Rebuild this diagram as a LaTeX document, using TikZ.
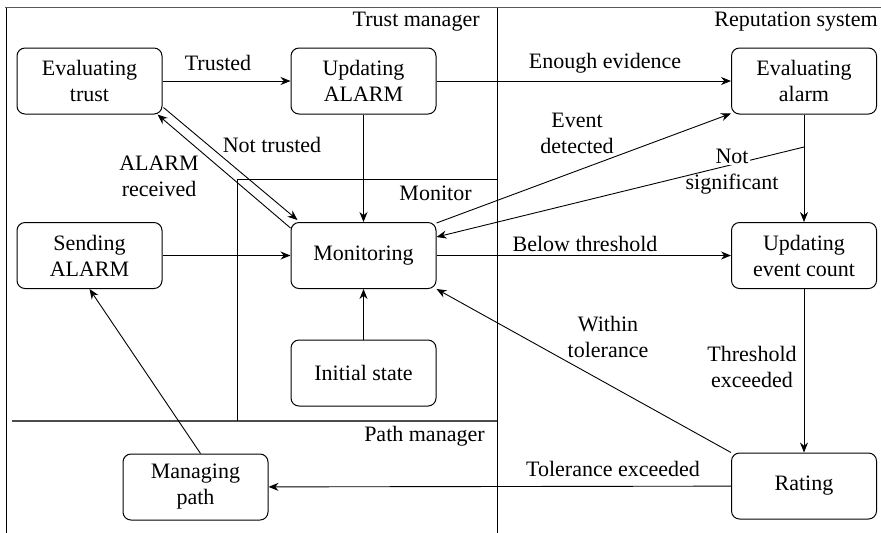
\documentclass[tikz,border=0pt]{standalone}
\usepackage{fontspec}
\setmainfont{Liberation Serif}
\usetikzlibrary{arrows.meta}
\begin{document}
\begin{tikzpicture}[x=0.5pt,y=-0.5pt,
  every node/.style={font=\fontsize{11}{13}\selectfont},
  state/.style={draw,rounded corners=4pt,minimum width=72.5pt,minimum height=33pt,align=center,inner sep=1pt,line width=0.5pt},
  lbl/.style={align=center,inner sep=1pt},
  conn/.style={line width=0.45pt,-{Stealth[length=5pt,width=4pt]}},
  frame/.style={line width=0.5pt}]
\useasboundingbox (0,0) rectangle (881,532);
% frame and regions
\draw[gray!70!black,line width=0.9pt] (5,7.5) -- (881,7.5);
\draw[frame] (6,7.5) -- (6,533);
\draw[frame] (497,7.5) -- (497,533);
\draw[frame,gray!60!black,line width=0.7pt] (12,421) -- (497,421);
\draw[frame] (237,421) -- (237,179) -- (497,179);
\node[lbl,anchor=east] (tm) at (482,22) {Trust manager};
\node[lbl,anchor=east] (rs) at (880,22) {Reputation system};
\node[lbl,anchor=east] (mo) at (474,193) {Monitor};
\node[lbl,anchor=east] (pm) at (487,436) {Path manager};
% states
\node[state] (et) at (89.5,81) {Evaluating\\trust};
\node[state] (ua) at (363.5,81) {Updating\\ALARM};
\node[state] (ea) at (804,81) {Evaluating\\alarm};
\node[state] (sa) at (89.5,255.5) {Sending\\ALARM};
\node[state] (mn) at (363.5,255.5) {Monitoring};
\node[state] (uc) at (804,255.5) {Updating\\event count};
\node[state] (is) at (363.5,373) {Initial state};
\node[state] (mp) at (195.5,487) {Managing\\path};
\node[state] (ra) at (804,486) {Rating};
% connectors
\draw[conn] (et) -- (ua);
\node[lbl] (l1) at (218,63) {Trusted};
\draw[conn] (ua) -- (ea);
\node[lbl] (l2) at (605,63) {Enough evidence};
\draw[conn] (ua) -- (mn);
\draw[conn] ([xshift=0.5pt,yshift=3.5pt]et.south east) -- ([xshift=3.5pt,yshift=1pt]mn.north west);
\node[lbl] (l3) at (272,145) {Not trusted};
\draw[conn] ([yshift=-3pt]mn.north west) -- ([xshift=-2.5pt]et.south east);
\node[lbl] (l4) at (159,176) {ALARM\\received};
\draw[conn] (sa) -- (mn);
\draw[conn] ([yshift=-0.5pt]mn.north east) -- ([yshift=0.5pt]ea.south west);
\node[lbl] (l5) at (577,133) {Event\\detected};
\coordinate (ns) at (804,147);
\draw[conn] (ns) -- ([yshift=-7.5pt]mn.north east);
\node[lbl] (l6) at (732,171) {{\setlength\fboxsep{0.6pt}\colorbox{white}{Not}}\\significant};
\draw[conn] (ea) -- (uc);
\draw[conn] (mn) -- (uc);
\node[lbl] (l7) at (585,244) {Below threshold};
\draw[conn] (uc) -- (ra);
\node[lbl] (l8) at (752,367) {Threshold\\exceeded};
\draw[conn] (ra.north west) -- (mn.south east);
\node[lbl] (l9) at (608,337) {Within\\tolerance};
\draw[conn] (ra) -- (mp);
\node[lbl] (l10) at (613,469) {Tolerance exceeded};
\draw[conn] ([xshift=2.5pt]mp.north) -- (sa.south);
\draw[conn] (is) -- (mn);
\end{tikzpicture}
\end{document}
